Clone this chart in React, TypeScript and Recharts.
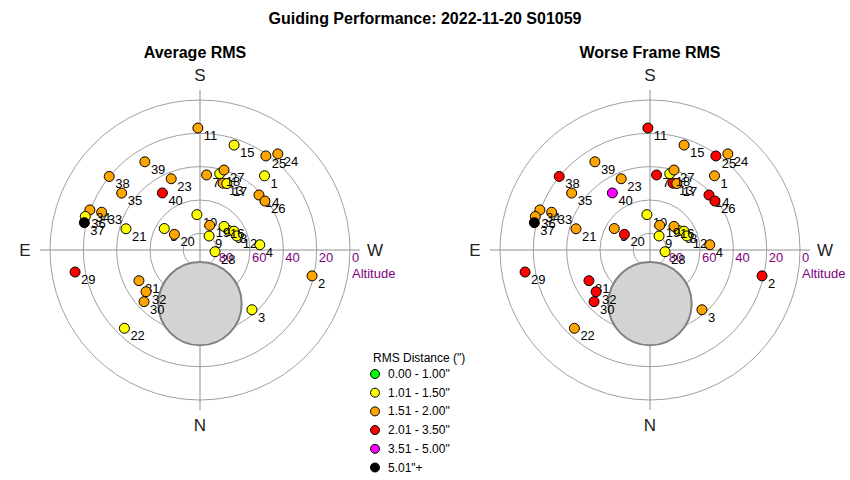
import React from 'react'
import { ScatterChart, Scatter, XAxis, YAxis } from 'recharts'

const TITLE = 'Guiding Performance: 2022-11-20 S01059'
const PANEL_TITLES = ['Average RMS', 'Worse Frame RMS']

// exposures, numbered as they appear on the plot
const POINT_IDS = [
  1, 2, 3, 4, 5, 6, 7, 8, 9, 10, 11, 12, 13, 14, 15, 16, 17, 18, 19, 20,
  21, 22, 23, 24, 25, 26, 27, 28, 29, 30, 31, 32, 33, 34, 35, 36, 37, 38, 39, 40,
]
const ALTITUDE = [
  31, 21, 42.5, 54, 65, 69.2, 44.8, 66.7, 80, 68.7, 16.8, 66.4, 47.6, 41.6, 23.8, 69.8, 47, 42.7, 74.1, 72,
  43.8, 24.7, 43.9, 15.8, 21.1, 41.2, 39.9, 80.9, 13.9, 44.3, 49, 49.1, 26.8, 19.7, 31.9, 18.3, 18.7, 19.9, 27.6, 49,
]
const AZIMUTH = [
  221, 283, 319, 265, 121, 236, 185, 241, 213, 175, 179, 249, 199, 227, 198, 225.5, 202, 194.5, 201.5, 121.4,
  106, 44, 158, 219, 215, 233, 196.7, 276.5, 80, 47.3, 63.3, 52.3, 111, 110, 126, 106.3, 103.3, 129, 148, 146.6,
]
// RMS class of each exposure (index into BIN_LABELS)
const AVG_BIN = [
  1, 2, 1, 1, 1, 1, 2, 1, 1, 1, 2, 1, 2, 2, 1, 1, 1, 1, 2, 2,
  1, 1, 2, 2, 2, 2, 2, 1, 3, 2, 2, 2, 2, 2, 2, 1, 5, 2, 2, 3,
]
const WORST_BIN = [
  2, 3, 2, 2, 2, 1, 3, 1, 1, 1, 3, 1, 3, 3, 2, 2, 2, 1, 2, 3,
  2, 2, 2, 2, 3, 3, 2, 1, 3, 3, 3, 3, 2, 2, 2, 2, 5, 3, 2, 4,
]

const LEGEND_TITLE = 'RMS Distance (")'
const BIN_LABELS = ['0.00 - 1.00"', '1.01 - 1.50"', '1.51 - 2.00"', '2.01 - 3.50"', '3.51 - 5.00"', '5.01"+']
const BIN_COLORS = ['#00ff00', '#ffff00', '#ffa500', '#ff0000', '#ff00ff', '#000000']

const RING_ALTITUDES = [80, 60, 40, 20, 0]
const AXIS_NAME = 'Altitude'
const COMPASS = ['N', 'E', 'S', 'W']
const COMPASS_AZ = [0, 90, 180, 270]

// grey disc on the plot
const MASK_ALT = 57.8
const MASK_AZ = 0
const MASK_RADIUS = 25

const FONT = '"Liberation Sans", Arial, sans-serif'
const SIZE = 400
const DOMAIN = 120
const PX = SIZE / (2 * DOMAIN)
const AXIS_LEN = 96
const COMPASS_DIST = 105

// south up, east left
const toXY = (alt: number, az: number) => {
  const z = 90 - alt
  const a = (az * Math.PI) / 180
  return { x: -z * Math.sin(a), y: -z * Math.cos(a) }
}

const Empty = () => <g />

const RingShape = (p: any) => (
  <circle cx={p.cx} cy={p.cy} r={(90 - p.payload.alt) * PX} fill="none" stroke="#a0a0a0" strokeWidth={1} />
)

const MaskShape = (p: any) => (
  <circle cx={p.cx} cy={p.cy} r={MASK_RADIUS * PX} fill="#d3d3d3" stroke="#808080" strokeWidth={2} />
)

const RingLabel = (p: any) => (
  <text x={p.cx + 2} y={p.cy + 12} fontSize={13} fill="#800080" fontFamily={FONT}>
    {p.payload.text}
  </text>
)

const AxisName = (p: any) => (
  <text x={p.cx + 2} y={p.cy + 28} fontSize={13} fill="#800080" fontFamily={FONT}>
    {p.payload.text}
  </text>
)

const CompassLabel = (p: any) => (
  <text x={p.cx} y={p.cy} fontSize={17} fill="#222" fontFamily={FONT} textAnchor="middle" dominantBaseline="central">
    {p.payload.text}
  </text>
)

const PointShape = (p: any) => (
  <g>
    <circle cx={p.cx} cy={p.cy} r={5} fill={p.payload.color} stroke="#000" strokeWidth={1} />
    <text x={p.cx + 6} y={p.cy + 12} fontSize={13} fill="#000" fontFamily={FONT}>
      {p.payload.id}
    </text>
  </g>
)

function SkyPanel({ bins, left }: { bins: number[]; left: number }) {
  const rings = RING_ALTITUDES.map((alt) => ({ x: 0, y: 0, alt }))
  const ringLabels = RING_ALTITUDES.map((alt) => ({ x: 90 - alt, y: 0, text: String(alt) }))
  const axisName = [{ x: 90, y: 0, text: AXIS_NAME }]
  const compass = COMPASS.map((d, i) => ({ ...toXY(90 - COMPASS_DIST, COMPASS_AZ[i]), text: d }))
  const mask = [toXY(MASK_ALT, MASK_AZ)]
  const points = POINT_IDS.map((id, i) => ({
    ...toXY(ALTITUDE[i], AZIMUTH[i]),
    id,
    color: BIN_COLORS[bins[i]],
  }))

  return (
    <div style={{ position: 'absolute', left, top: 50 }}>
      <ScatterChart width={SIZE} height={SIZE} margin={{ top: 0, right: 0, bottom: 0, left: 0 }}>
        <XAxis type="number" dataKey="x" domain={[-DOMAIN, DOMAIN]} allowDataOverflow hide />
        <YAxis type="number" dataKey="y" domain={[-DOMAIN, DOMAIN]} allowDataOverflow hide />
        <Scatter data={rings} shape={RingShape} isAnimationActive={false} />
        <Scatter
          data={[{ x: 0, y: -AXIS_LEN }, { x: 0, y: AXIS_LEN }]}
          line={{ stroke: '#909090', strokeWidth: 1 }}
          shape={Empty}
          isAnimationActive={false}
        />
        <Scatter
          data={[{ x: -AXIS_LEN, y: 0 }, { x: AXIS_LEN, y: 0 }]}
          line={{ stroke: '#909090', strokeWidth: 1 }}
          shape={Empty}
          isAnimationActive={false}
        />
        <Scatter data={mask} shape={MaskShape} isAnimationActive={false} />
        <Scatter data={ringLabels} shape={RingLabel} isAnimationActive={false} />
        <Scatter data={axisName} shape={AxisName} isAnimationActive={false} />
        <Scatter data={compass} shape={CompassLabel} isAnimationActive={false} />
        <Scatter data={points} shape={PointShape} isAnimationActive={false} />
      </ScatterChart>
    </div>
  )
}

export default function App() {
  return (
    <div style={{ position: 'absolute', left: 0, top: 0, width: 850, height: 480, background: '#fff', fontFamily: FONT }}>
      <SkyPanel bins={AVG_BIN} left={0} />
      <SkyPanel bins={WORST_BIN} left={450} />
      <svg width={850} height={480} style={{ position: 'absolute', left: 0, top: 0, pointerEvents: 'none' }}>
        <text x={425} y={24} textAnchor="middle" fontSize={16} fontWeight="bold" fontFamily={FONT}>
          {TITLE}
        </text>
        <text x={195} y={58} textAnchor="middle" fontSize={16} fontWeight="bold" fontFamily={FONT}>
          {PANEL_TITLES[0]}
        </text>
        <text x={650} y={58} textAnchor="middle" fontSize={16} fontWeight="bold" fontFamily={FONT}>
          {PANEL_TITLES[1]}
        </text>
        <text x={373} y={362} fontSize={12} fontFamily={FONT}>
          {LEGEND_TITLE}
        </text>
        {BIN_LABELS.map((label, i) => (
          <g key={label}>
            <circle cx={375} cy={374 + i * 18.7} r={4.5} fill={BIN_COLORS[i]} stroke="#000" strokeWidth={1} />
            <text x={388} y={378 + i * 18.7} fontSize={12} fontFamily={FONT}>
              {label}
            </text>
          </g>
        ))}
      </svg>
    </div>
  )
}
